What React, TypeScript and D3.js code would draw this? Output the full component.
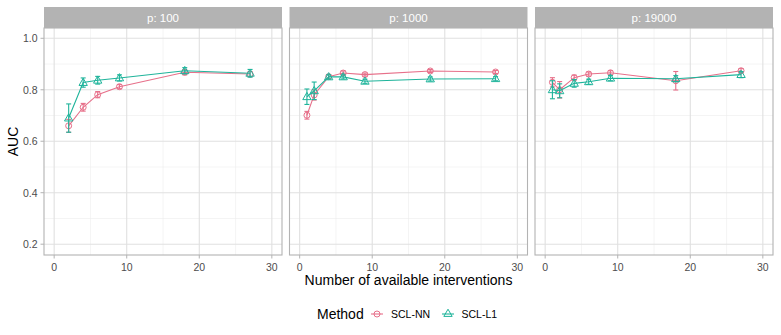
import { useEffect, useRef } from 'react';
import * as d3 from 'd3';

// panels (facets)
const panelLabels = ['p: 100', 'p: 1000', 'p: 19000'];
const xP100 = [2, 4, 6, 9, 18, 27];
const xP1000 = [1, 2, 4, 6, 9, 18, 27];
const xP19000 = [1, 2, 4, 6, 9, 18, 27];

// SCL-NN
const nnP100 = [0.66, 0.732, 0.781, 0.812, 0.868, 0.861];
const nnP100Err = [0.025, 0.015, 0.012, 0.008, 0.01, 0.01];
const nnP1000 = [0.701, 0.78, 0.851, 0.865, 0.859, 0.873, 0.869];
const nnP1000Err = [0.015, 0.02, 0.008, 0.008, 0.006, 0.006, 0.006];
const nnP19000 = [0.829, 0.8, 0.847, 0.861, 0.866, 0.835, 0.874];
const nnP19000Err = [0.018, 0.032, 0.01, 0.008, 0.008, 0.036, 0.008];

// SCL-L1
const l1P100 = [0.69, 0.828, 0.837, 0.846, 0.874, 0.864];
const l1P100Err = [0.055, 0.018, 0.015, 0.012, 0.012, 0.015];
const l1P1000 = [0.773, 0.796, 0.85, 0.85, 0.833, 0.842, 0.843];
const l1P1000Err = [0.03, 0.034, 0.008, 0.008, 0.008, 0.008, 0.008];
const l1P19000 = [0.8, 0.796, 0.825, 0.831, 0.845, 0.843, 0.859];
const l1P19000Err = [0.035, 0.027, 0.015, 0.01, 0.01, 0.012, 0.012];

const methods = ['SCL-NN', 'SCL-L1'];
const xTicks = [0, 10, 20, 30];
const yTicks = [0.2, 0.4, 0.6, 0.8, 1.0];
const yMinor = [0.3, 0.5, 0.7, 0.9];
const xMinor = [5, 15, 25];

const colors = ['#E7708A', '#1FB49B'];

const App = () => {
  const svgRef = useRef(null);

  useEffect(() => {
    const width = 781;
    const height = 335;
    const svg = d3.select(svgRef.current);
    svg.selectAll('*').remove();
    svg.attr('width', width).attr('height', height)
      .style('font-family', 'Liberation Sans, Arial, sans-serif');

    const panels = [
      { label: panelLabels[0], xs: xP100, series: [[nnP100, nnP100Err], [l1P100, l1P100Err]] },
      { label: panelLabels[1], xs: xP1000, series: [[nnP1000, nnP1000Err], [l1P1000, l1P1000Err]] },
      { label: panelLabels[2], xs: xP19000, series: [[nnP19000, nnP19000Err], [l1P19000, l1P19000Err]] },
    ];

    const panelLefts = [44, 289.5, 535];
    const panelW = 238;
    const stripTop = 7;
    const stripH = 21;
    const top = stripTop + stripH;
    const bottom = 255;

    const y = d3.scaleLinear().domain([0.158, 1.04]).range([bottom, top]);

    const triangle = d3.symbol().type(d3.symbolTriangle).size(30);

    panels.forEach((p, pi) => {
      const left = panelLefts[pi];
      const x = d3.scaleLinear().domain([-1.4, 31.4]).range([left, left + panelW]);
      const g = svg.append('g');

      // strip
      g.append('rect')
        .attr('x', left).attr('y', stripTop)
        .attr('width', panelW).attr('height', stripH)
        .attr('fill', '#B3B3B3');
      g.append('text')
        .attr('x', left + panelW / 2).attr('y', stripTop + stripH / 2)
        .attr('text-anchor', 'middle').attr('dominant-baseline', 'central')
        .attr('font-size', 11.5).attr('fill', 'white')
        .text(p.label);

      // grid
      g.selectAll('.ymin').data(yMinor).enter().append('line')
        .attr('x1', left).attr('x2', left + panelW)
        .attr('y1', d => y(d)).attr('y2', d => y(d))
        .attr('stroke', '#EBEBEB').attr('stroke-width', 0.55);
      g.selectAll('.xmin').data(xMinor).enter().append('line')
        .attr('y1', top).attr('y2', bottom)
        .attr('x1', d => x(d)).attr('x2', d => x(d))
        .attr('stroke', '#EBEBEB').attr('stroke-width', 0.55);
      g.selectAll('.ymaj').data(yTicks).enter().append('line')
        .attr('x1', left).attr('x2', left + panelW)
        .attr('y1', d => y(d)).attr('y2', d => y(d))
        .attr('stroke', '#E0E0E0').attr('stroke-width', 1.1);
      g.selectAll('.xmaj').data(xTicks).enter().append('line')
        .attr('y1', top).attr('y2', bottom)
        .attr('x1', d => x(d)).attr('x2', d => x(d))
        .attr('stroke', '#E0E0E0').attr('stroke-width', 1.1);

      // x axis ticks + labels
      g.selectAll('.xt').data(xTicks).enter().append('line')
        .attr('x1', d => x(d)).attr('x2', d => x(d))
        .attr('y1', bottom).attr('y2', bottom + 3.5)
        .attr('stroke', '#B3B3B3').attr('stroke-width', 1);
      g.selectAll('.xl').data(xTicks).enter().append('text')
        .attr('x', d => x(d)).attr('y', bottom + 12)
        .attr('text-anchor', 'middle').attr('dominant-baseline', 'central')
        .attr('font-size', 10.5).attr('fill', '#4D4D4D')
        .text(d => d);

      // series
      p.series.forEach(([vals, errs], si) => {
        const c = colors[si];
        const pts = p.xs.map((xv, i) => ({ x: xv, y: vals[i], e: errs[i] }));
        const line = d3.line<any>().x(d => x(d.x)).y(d => y(d.y));
        g.append('path').datum(pts)
          .attr('d', line).attr('fill', 'none')
          .attr('stroke', c).attr('stroke-width', 1.1);

        const eb = g.selectAll(`.eb${si}`).data(pts).enter().append('g');
        eb.append('line')
          .attr('x1', d => x(d.x)).attr('x2', d => x(d.x))
          .attr('y1', d => y(d.y - d.e)).attr('y2', d => y(d.y + d.e))
          .attr('stroke', c).attr('stroke-width', 1.1);
        [-1, 1].forEach(s => {
          eb.append('line')
            .attr('x1', d => x(d.x) - 2.5).attr('x2', d => x(d.x) + 2.5)
            .attr('y1', d => y(d.y + s * d.e)).attr('y2', d => y(d.y + s * d.e))
            .attr('stroke', c).attr('stroke-width', 1.1);
        });

        if (si === 0) {
          g.selectAll('.pt0').data(pts).enter().append('circle')
            .attr('cx', d => x(d.x)).attr('cy', d => y(d.y))
            .attr('r', 3).attr('fill', 'none')
            .attr('stroke', c).attr('stroke-width', 1);
        } else {
          g.selectAll('.pt1').data(pts).enter().append('path')
            .attr('transform', d => `translate(${x(d.x)},${y(d.y) + 0.5})`)
            .attr('d', triangle).attr('fill', 'none')
            .attr('stroke', c).attr('stroke-width', 1);
        }
      });

      // panel border
      g.append('rect')
        .attr('x', left).attr('y', top)
        .attr('width', panelW).attr('height', bottom - top)
        .attr('fill', 'none').attr('stroke', '#B3B3B3').attr('stroke-width', 1.1);
    });

    // y axis
    const ya = svg.append('g');
    ya.selectAll('.yt').data(yTicks).enter().append('line')
      .attr('x1', 40.5).attr('x2', 44)
      .attr('y1', d => y(d)).attr('y2', d => y(d))
      .attr('stroke', '#B3B3B3').attr('stroke-width', 1);
    ya.selectAll('.yl').data(yTicks).enter().append('text')
      .attr('x', 37.5).attr('y', d => y(d))
      .attr('text-anchor', 'end').attr('dominant-baseline', 'central')
      .attr('font-size', 10.5).attr('fill', '#4D4D4D')
      .text(d => d.toFixed(1));
    ya.append('text')
      .attr('transform', `translate(13, ${(top + bottom) / 2}) rotate(-90)`)
      .attr('text-anchor', 'middle').attr('dominant-baseline', 'central')
      .attr('font-size', 14).attr('fill', 'black')
      .text('AUC');

    // x title
    svg.append('text')
      .attr('x', (44 + 773) / 2).attr('y', 280)
      .attr('text-anchor', 'middle').attr('dominant-baseline', 'central')
      .attr('font-size', 14).attr('fill', 'black')
      .text('Number of available interventions');

    // legend
    const lg = svg.append('g').attr('transform', 'translate(0, 314)');
    lg.append('text')
      .attr('x', 317).attr('y', 0)
      .attr('dominant-baseline', 'central')
      .attr('font-size', 14).attr('fill', 'black')
      .text('Method');
    const keyX = [371, 442];
    const labelX = [391, 461.5];
    methods.forEach((m, i) => {
      lg.append('line')
        .attr('x1', keyX[i]).attr('x2', keyX[i] + 12)
        .attr('y1', 0).attr('y2', 0)
        .attr('stroke', colors[i]).attr('stroke-width', 1.1);
      if (i === 0) {
        lg.append('circle').attr('cx', keyX[i] + 6).attr('cy', 0).attr('r', 3)
          .attr('fill', 'none').attr('stroke', colors[i]).attr('stroke-width', 1);
      } else {
        lg.append('path').attr('transform', `translate(${keyX[i] + 6}, 0)`)
          .attr('d', triangle).attr('fill', 'none')
          .attr('stroke', colors[i]).attr('stroke-width', 1);
      }
      lg.append('text')
        .attr('x', labelX[i]).attr('y', 0)
        .attr('dominant-baseline', 'central')
        .attr('font-size', 10.5).attr('fill', 'black')
        .text(m);
    });
  }, []);

  return <svg ref={svgRef} style={{ display: 'block', position: 'absolute', left: 0, top: 0 }}></svg>;
};

export default App;
